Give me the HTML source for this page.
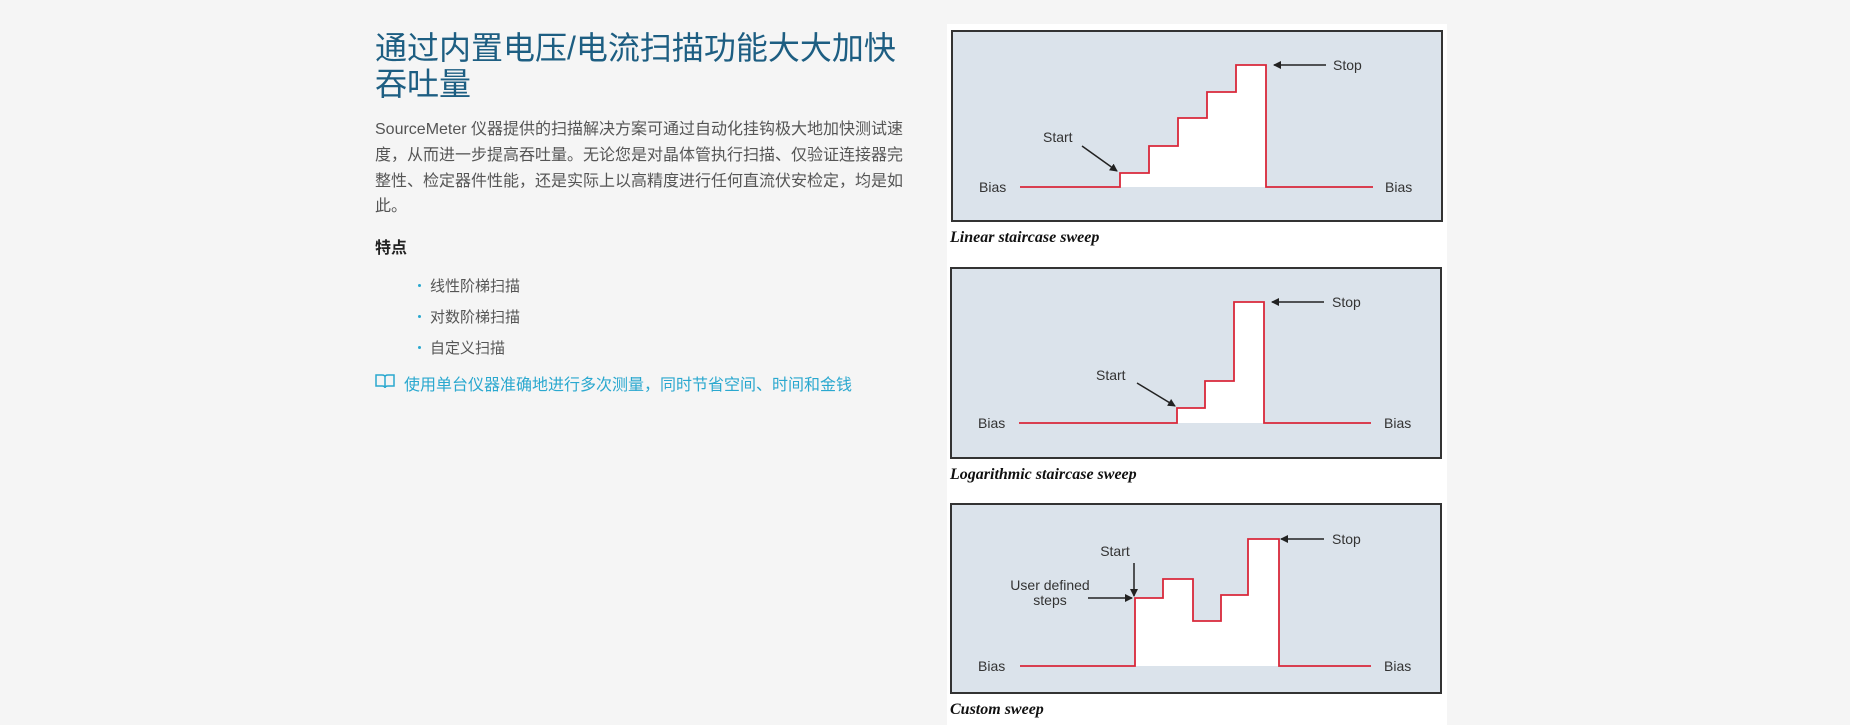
<!DOCTYPE html>
<html><head><meta charset="utf-8"><style>
body{margin:0;width:1850px;height:725px;background:#f5f5f5;overflow:hidden;position:relative;font-family:"Liberation Sans","Noto Sans CJK SC",sans-serif}
.a{position:absolute;white-space:nowrap}
.t{left:375px;font-size:32px;color:#1d5e82;line-height:36px}
.p{left:375px;font-size:16px;color:#555;line-height:20px}
.b{font-size:15px;color:#555;left:430px}
.d{position:absolute;left:418px;width:3px;height:3px;border-radius:50%;background:#2aa8cf}
</style></head><body>
<div class="a t" style="top:30px">通过内置电压/电流扫描功能大大加快</div>
<div class="a t" style="top:66px">吞吐量</div>
<div class="a p" style="top:120px">SourceMeter 仪器提供的扫描解决方案可通过自动化挂钩极大地加快测试速</div>
<div class="a p" style="top:146px">度，从而进一步提高吞吐量。无论您是对晶体管执行扫描、仅验证连接器完</div>
<div class="a p" style="top:172px">整性、检定器件性能，还是实际上以高精度进行任何直流伏安检定，均是如</div>
<div class="a p" style="top:197px">此。</div>
<div class="a" style="left:375px;top:234px;font-size:16px;font-weight:bold;color:#222">特点</div>
<div class="d" style="top:284px"></div><div class="a b" style="top:275px">线性阶梯扫描</div>
<div class="d" style="top:315px"></div><div class="a b" style="top:306px">对数阶梯扫描</div>
<div class="d" style="top:346px"></div><div class="a b" style="top:337px">自定义扫描</div>
<svg class="a" style="left:375px;top:373px" width="20" height="16" viewBox="0 0 20 16"><path d="M1 2h6q3 0 3 2v11q0-2-3-2H1z M19 2h-6q-3 0-3 2v11q0-2 3-2h6z" fill="none" stroke="#2aa8cf" stroke-width="1.5"/></svg>
<div class="a" style="left:404px;top:371px;font-size:16px;color:#2aa8cf">使用单台仪器准确地进行多次测量，同时节省空间、时间和金钱</div>
<svg class="a" style="left:0;top:0" width="1850" height="725">
<defs><marker id="ar" markerWidth="8" markerHeight="8" refX="7" refY="4" orient="auto" markerUnits="userSpaceOnUse"><path d="M0,0L8,4L0,8z" fill="#222"/></marker></defs>
<rect x="947" y="24" width="500" height="701" fill="#fff"/>
<g font-family="Liberation Sans,sans-serif" font-size="14" fill="#333">
<rect x="952" y="31" width="490" height="190" fill="#dbe3eb" stroke="#333" stroke-width="2"/>
<path d="M1120 187V173H1149V146H1178V118H1207V92H1236V65H1266V187Z" fill="#fff"/>
<path d="M1020 187H1120V173H1149V146H1178V118H1207V92H1236V65H1266V187H1373" fill="none" stroke="#d9283a" stroke-width="1.8"/>
<text x="979" y="192">Bias</text><text x="1385" y="192">Bias</text>
<text x="1333" y="70">Stop</text><text x="1043" y="142">Start</text>
<line x1="1326" y1="65" x2="1274" y2="65" stroke="#222" stroke-width="1.5" marker-end="url(#ar)"/>
<line x1="1082" y1="146" x2="1117" y2="171" stroke="#222" stroke-width="1.5" marker-end="url(#ar)"/>
<rect x="951" y="268" width="490" height="190" fill="#dbe3eb" stroke="#333" stroke-width="2"/>
<path d="M1177 423V408H1205V381H1234V302H1264V423Z" fill="#fff"/>
<path d="M1019 423H1177V408H1205V381H1234V302H1264V423H1371" fill="none" stroke="#d9283a" stroke-width="1.8"/>
<text x="978" y="428">Bias</text><text x="1384" y="428">Bias</text>
<text x="1332" y="307">Stop</text><text x="1096" y="380">Start</text>
<line x1="1324" y1="302" x2="1272" y2="302" stroke="#222" stroke-width="1.5" marker-end="url(#ar)"/>
<line x1="1137" y1="383" x2="1175" y2="406" stroke="#222" stroke-width="1.5" marker-end="url(#ar)"/>
<rect x="951" y="504" width="490" height="189" fill="#dbe3eb" stroke="#333" stroke-width="2"/>
<path d="M1135 666V598H1163V579H1193V621H1221V595H1248V539H1279V666Z" fill="#fff"/>
<path d="M1020 666H1135V598H1163V579H1193V621H1221V595H1248V539H1279V666H1371" fill="none" stroke="#d9283a" stroke-width="1.8"/>
<text x="978" y="671">Bias</text><text x="1384" y="671">Bias</text>
<text x="1332" y="544">Stop</text><text x="1115" y="556" text-anchor="middle">Start</text>
<text x="1050" y="590" text-anchor="middle">User defined</text><text x="1050" y="605" text-anchor="middle">steps</text>
<line x1="1324" y1="539" x2="1281" y2="539" stroke="#222" stroke-width="1.5" marker-end="url(#ar)"/>
<line x1="1134" y1="563" x2="1134" y2="596" stroke="#222" stroke-width="1.5" marker-end="url(#ar)"/>
<line x1="1088" y1="598" x2="1132" y2="598" stroke="#222" stroke-width="1.5" marker-end="url(#ar)"/>
</g>
<g font-family="Liberation Serif,serif" font-size="16" font-weight="bold" font-style="italic" fill="#111">
<text x="950" y="242">Linear staircase sweep</text>
<text x="950" y="479">Logarithmic staircase sweep</text>
<text x="950" y="714">Custom sweep</text>
</g>
</svg>
</body></html>
